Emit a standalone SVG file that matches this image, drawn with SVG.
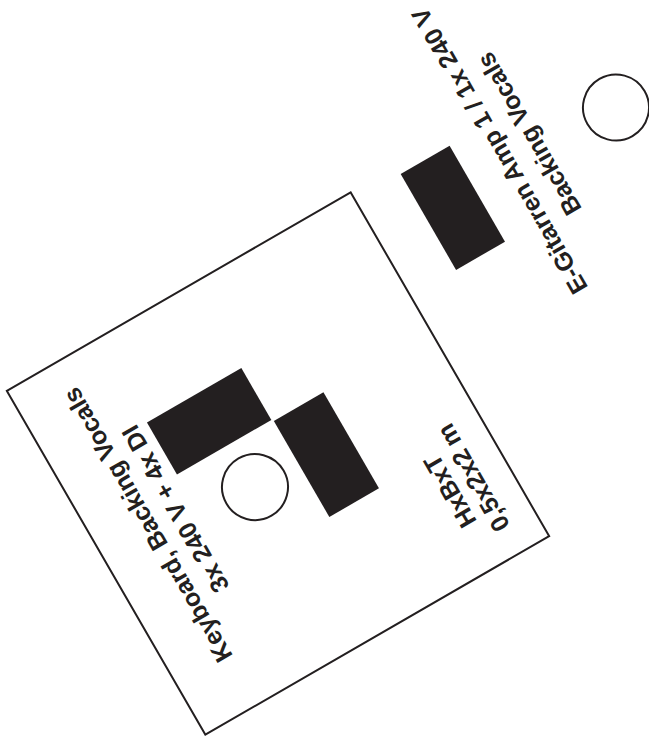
<svg xmlns="http://www.w3.org/2000/svg" width="649" height="741" viewBox="0 0 649 741">
<style>
.outline{fill:none;stroke:#231f20;stroke-width:2}
.block{fill:#231f20}
.lbl{font-family:"Liberation Sans",Arial,sans-serif;font-weight:bold;font-size:25px;fill:#231f20;text-anchor:middle}
</style>
<rect width="649" height="741" fill="#ffffff"/>
<g transform="translate(278,463.5) rotate(-30)">
  <g id="riser">
    <rect class="outline" x="-198.5" y="-198.5" width="397" height="397"/>
  </g>
  <g id="keyboard-1">
    <rect class="block" x="-93" y="-101" width="109" height="60"/>
  </g>
  <g id="keyboard-2">
    <rect class="block" x="17.7" y="-39" width="57.3" height="111"/>
  </g>
  <g id="keyboard-mic">
    <circle class="outline" cx="-31.7" cy="8.9" r="33"/>
  </g>
  <g id="keyboard-label">
    <text class="lbl" transform="rotate(-90)"><tspan x="12" y="-135">Keyboard, Backing Vocals</tspan><tspan x="12" y="-103">3x 240 V + 4x DI</tspan></text>
  </g>
  <g id="riser-size">
    <text class="lbl" transform="rotate(-90)"><tspan x="-110" y="143.7">HxBxT</tspan><tspan x="-110" y="170.6">0,5x2x2 m</tspan></text>
  </g>
  <g id="guitar-amp">
    <rect class="block" x="251" y="-189.4" width="56.5" height="110.8"/>
  </g>
  <g id="guitar-mic">
    <circle class="outline" cx="470.7" cy="-139.3" r="33"/>
  </g>
  <g id="guitar-label">
    <text class="lbl" transform="rotate(-90)"><tspan x="160" y="357">E-Gitarren Amp 1 / 1x 240 V</tspan><tspan x="160" y="391">Backing Vocals</tspan></text>
  </g>
</g>
</svg>
